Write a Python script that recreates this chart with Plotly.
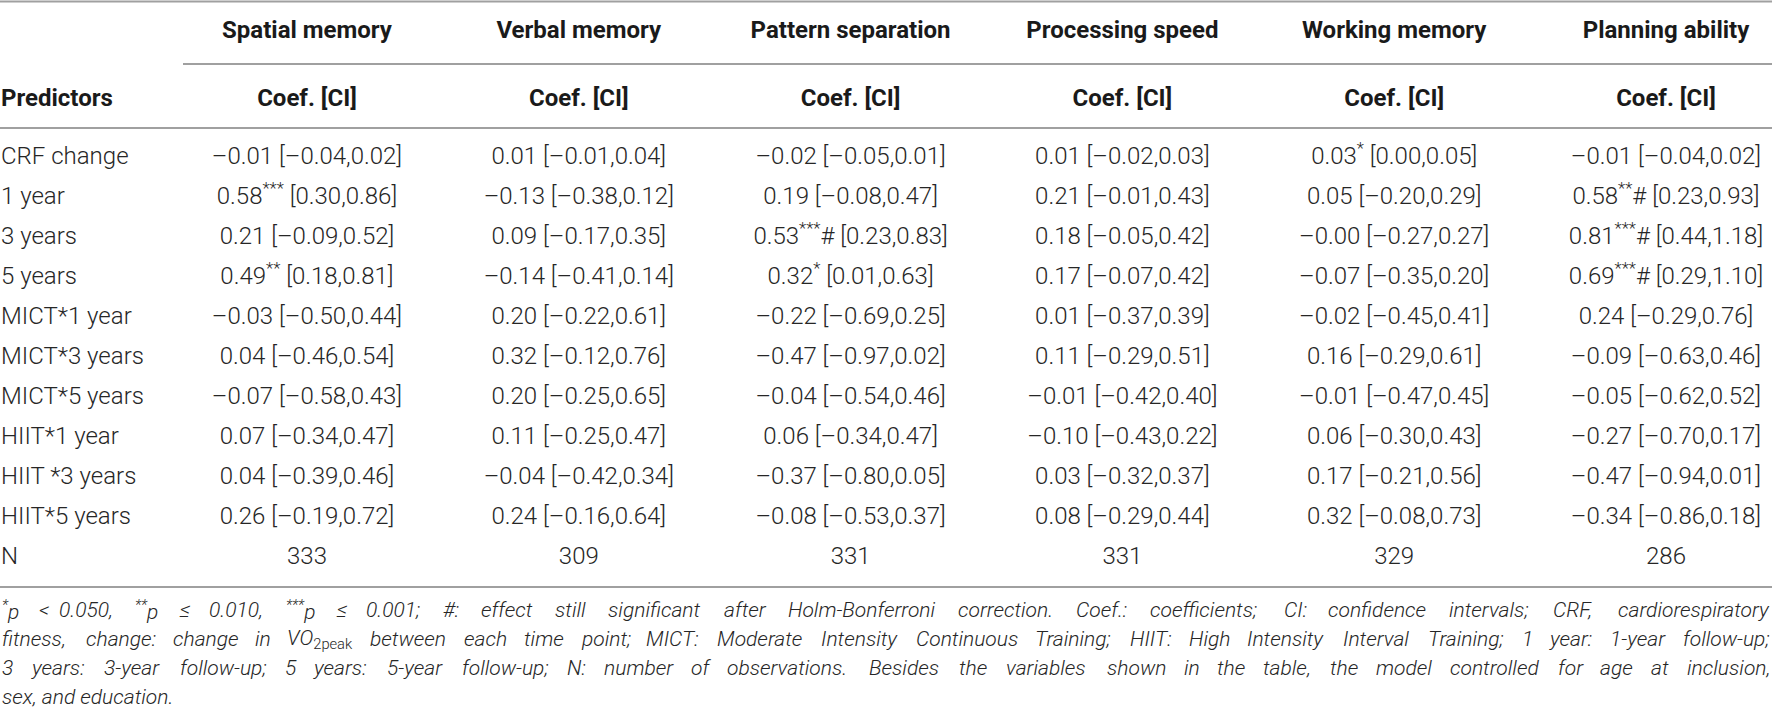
import re
import plotly.graph_objects as go

# table content
predictors = ["CRF change", "1 year", "3 years", "5 years", "MICT*1 year", "MICT*3 years",
              "MICT*5 years", "HIIT*1 year", "HIIT *3 years", "HIIT*5 years", "N"]
outcomes = ["Spatial memory", "Verbal memory", "Pattern separation",
            "Processing speed", "Working memory", "Planning ability"]
sub_header = "Coef. [CI]"

spatial = ["–0.01 [–0.04,0.02]", "0.58*** [0.30,0.86]", "0.21 [–0.09,0.52]", "0.49** [0.18,0.81]",
           "–0.03 [–0.50,0.44]", "0.04 [–0.46,0.54]", "–0.07 [–0.58,0.43]", "0.07 [–0.34,0.47]",
           "0.04 [–0.39,0.46]", "0.26 [–0.19,0.72]", "333"]
verbal = ["0.01 [–0.01,0.04]", "–0.13 [–0.38,0.12]", "0.09 [–0.17,0.35]", "–0.14 [–0.41,0.14]",
          "0.20 [–0.22,0.61]", "0.32 [–0.12,0.76]", "0.20 [–0.25,0.65]", "0.11 [–0.25,0.47]",
          "–0.04 [–0.42,0.34]", "0.24 [–0.16,0.64]", "309"]
pattern = ["–0.02 [–0.05,0.01]", "0.19 [–0.08,0.47]", "0.53***# [0.23,0.83]", "0.32* [0.01,0.63]",
           "–0.22 [–0.69,0.25]", "–0.47 [–0.97,0.02]", "–0.04 [–0.54,0.46]", "0.06 [–0.34,0.47]",
           "–0.37 [–0.80,0.05]", "–0.08 [–0.53,0.37]", "331"]
processing = ["0.01 [–0.02,0.03]", "0.21 [–0.01,0.43]", "0.18 [–0.05,0.42]", "0.17 [–0.07,0.42]",
              "0.01 [–0.37,0.39]", "0.11 [–0.29,0.51]", "–0.01 [–0.42,0.40]", "–0.10 [–0.43,0.22]",
              "0.03 [–0.32,0.37]", "0.08 [–0.29,0.44]", "331"]
working = ["0.03* [0.00,0.05]", "0.05 [–0.20,0.29]", "–0.00 [–0.27,0.27]", "–0.07 [–0.35,0.20]",
           "–0.02 [–0.45,0.41]", "0.16 [–0.29,0.61]", "–0.01 [–0.47,0.45]", "0.06 [–0.30,0.43]",
           "0.17 [–0.21,0.56]", "0.32 [–0.08,0.73]", "329"]
planning = ["–0.01 [–0.04,0.02]", "0.58**# [0.23,0.93]", "0.81***# [0.44,1.18]", "0.69***# [0.29,1.10]",
            "0.24 [–0.29,0.76]", "–0.09 [–0.63,0.46]", "–0.05 [–0.62,0.52]", "–0.27 [–0.70,0.17]",
            "–0.47 [–0.94,0.01]", "–0.34 [–0.86,0.18]", "286"]

footnote_lines = [
    "<sup>*</sup>p < 0.050, <sup>**</sup>p ≤ 0.010, <sup>***</sup>p ≤ 0.001; #: effect still significant after "
    "Holm-Bonferroni correction. Coef.: coefficients; CI: confidence intervals; CRF, cardiorespiratory",
    "fitness, change: change in VO<sub>2peak</sub> between each time point; MICT: Moderate Intensity "
    "Continuous Training; HIIT: High Intensity Interval Training; 1 year: 1-year follow-up;",
    "3 years: 3-year follow-up; 5 years: 5-year follow-up; N: number of observations. Besides the "
    "variables shown in the table, the model controlled for age at inclusion,",
    "sex, and education.",
]

columns = [spatial, verbal, pattern, processing, working, planning]

W, H = 1772, 715
FONT = "Roboto"
TXT = "#262626"
HDR = "#1a1a1a"
RULE = "#a0a0a0"
BODY_SIZE = 24
NOTE_SIZE = 21


def fmt(s):
    # stars as superscript
    return re.sub(r"(\*+)", r"<sup>\1</sup>", s)


# rough Roboto advance widths (em) used only to spread footnote words across the line
_w = {" ": .25, "i": .24, "l": .24, "j": .24, "f": .35, "t": .33, "r": .34, "m": .88, "w": .75,
      ".": .26, ",": .2, ";": .21, ":": .24, "-": .28, "*": .43, "#": .62, "<": .51, "≤": .51,
      "I": .27, "M": .87, "C": .65, "H": .71, "T": .6, "N": .71, "O": .69, "V": .64, "F": .55,
      "B": .62, "R": .62, "E": .57}


def est_width(word, size):
    total = 0.0
    for m in re.finditer(r"<su[bp]>(.*?)</su[bp]>|([^<]+)", word):
        part = m.group(1) if m.group(1) is not None else m.group(2)
        f = 0.7 if m.group(1) is not None else 1.0
        for ch in part:
            total += _w.get(ch, .66 if ch.isupper() else (.56 if ch.isdigit() else .53)) * f
    return total * size


def italic(s):
    return "<i>" + s.replace("<sub>", "</i><sub>").replace("</sub>", "</sub><i>") + "</i>"


# axis calibration: column i centre at 307 + 271.8*(i-1) px, row k centre at 158 + 40*k px
col_w = 271.8
x0 = 1 - 307 / col_w
x1 = x0 + W / col_w
row_h = 40.0
y_top = -158 / row_h
y_bot = (H - 158) / row_h


def py(px):
    return 1 - px / H


fig = go.Figure()
body_font = dict(family=FONT, size=BODY_SIZE, color=TXT, weight=300)
hdr_font = dict(family=FONT, size=BODY_SIZE, color=HDR, weight=700)
left_x = x0 + 1 / col_w

# first column
fig.add_trace(go.Scatter(
    x=[left_x] * len(predictors), y=list(range(len(predictors))),
    text=predictors, mode="text", textposition="middle right", cliponaxis=False,
    textfont=body_font, hoverinfo="skip", showlegend=False))

# value columns
for i, col in enumerate(columns):
    fig.add_trace(go.Scatter(
        x=[i + 1] * len(col), y=list(range(len(col))),
        text=[fmt(v) for v in col], mode="text", textposition="middle center",
        cliponaxis=False, textfont=body_font, hoverinfo="skip", showlegend=False))

# header rows
hdr_row1 = (32 - 158) / row_h
hdr_row2 = (100 - 158) / row_h
fig.add_trace(go.Scatter(
    x=list(range(1, len(outcomes) + 1)), y=[hdr_row1] * len(outcomes),
    text=outcomes, mode="text", textposition="middle center", cliponaxis=False,
    textfont=hdr_font, hoverinfo="skip", showlegend=False))
fig.add_trace(go.Scatter(
    x=list(range(1, len(outcomes) + 1)), y=[hdr_row2] * len(outcomes),
    text=[sub_header] * len(outcomes), mode="text", textposition="middle center",
    cliponaxis=False, textfont=hdr_font, hoverinfo="skip", showlegend=False))
fig.add_trace(go.Scatter(
    x=[left_x], y=[hdr_row2], text=["Predictors"], mode="text",
    textposition="middle right", cliponaxis=False, textfont=hdr_font,
    hoverinfo="skip", showlegend=False))

# horizontal rules
for yy, xa in [(1.5, 0), (64, 183), (128, 0), (587, 0)]:
    fig.add_shape(type="line", xref="paper", yref="paper", x0=xa / W, x1=1,
                  y0=py(yy), y1=py(yy), line=dict(color=RULE, width=2))

# footnote: justified lines (last line left aligned)
note_font = dict(family=FONT, size=NOTE_SIZE, color=TXT, weight=300)
for j, line in enumerate(footnote_lines):
    yj = py(610 + 29 * j)
    if j == len(footnote_lines) - 1:
        fig.add_annotation(text=italic(line), xref="paper", yref="paper", x=0, y=yj,
                           xanchor="left", yanchor="middle", showarrow=False, font=note_font)
        continue
    words = line.split(" ")
    widths = [est_width(wd, NOTE_SIZE) for wd in words]
    gap = (W - 2 - sum(widths)) / (len(words) - 1)
    pos = 0.0
    for k, wd in enumerate(words):
        last = k == len(words) - 1
        fig.add_annotation(text=italic(wd), xref="paper", yref="paper",
                           x=1 if last else pos / W, y=yj,
                           xanchor="right" if last else "left", yanchor="middle",
                           showarrow=False, font=note_font)
        pos += widths[k] + gap

fig.update_layout(
    width=W, height=H,
    margin=dict(l=0, r=0, t=0, b=0),
    paper_bgcolor="white", plot_bgcolor="white",
    xaxis=dict(range=[x0, x1], visible=False, fixedrange=True),
    yaxis=dict(range=[y_bot, y_top], visible=False, fixedrange=True),
)

fig.write_html("out.html", config={"displayModeBar": False},
               post_script="document.body.style.margin='0';")
